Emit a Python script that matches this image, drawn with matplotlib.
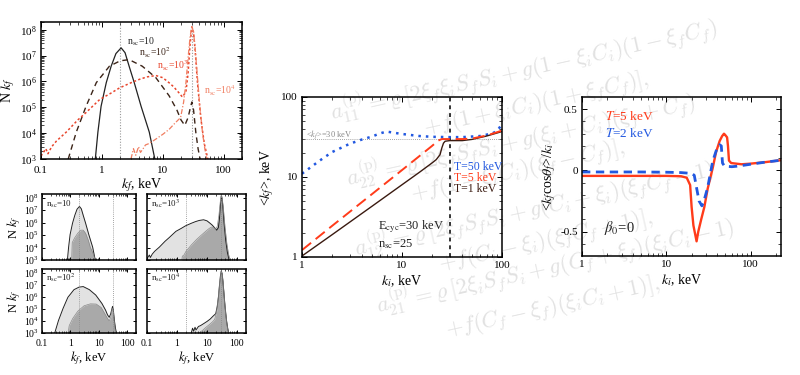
import numpy as np
import matplotlib
matplotlib.use('Agg')
import matplotlib.pyplot as plt

plt.rcParams['font.family'] = ['Liberation Serif', 'DejaVu Serif']
plt.rcParams['mathtext.fontset'] = 'stix'

# ---- spectra N k_f vs k_f (keV) for different n_sc ----
n10_x = [0.78, 0.86, 0.97, 1.18, 1.42, 1.7, 2.07, 2.4, 2.8, 3.4, 4.4, 6.0, 7.4]
n10_y = [1e3, 1.1e4, 1.1e5, 9e5, 3.9e6, 1.2e7, 2e7, 1.3e7, 3.9e6, 9e5, 1.1e5, 1.1e4, 1e3]

n100_x = [0.28, 0.38, 0.55, 0.81, 1.33, 2.0, 2.8, 4.6, 7.7, 12.7, 17, 20, 23, 26, 28.5, 30, 32, 35, 38, 41]
n100_y = [1e3, 1.1e4, 1.1e5, 9e5, 3.9e6, 6.3e6, 7e6, 3.9e6, 1.4e6, 2.8e5, 8e4, 3.2e4, 2e4, 4e4, 1e5, 1.6e5, 8e4, 1e4, 2.5e3, 1e3]

n1e3_x = [0.1, 0.12, 0.13, 0.15, 0.18, 0.26, 0.4, 0.55, 0.92, 1.4, 1.94, 3.0, 4.1, 5.5, 7.7, 10, 12.7, 15,
          18.5, 21, 24, 26, 28, 30, 32, 34, 37, 42, 48, 55]
n1e3_y = [1.3e3, 2.5e3, 1.6e3, 3e3, 5e3, 1.1e4, 3.2e4, 6.3e4, 2e5, 3.5e5, 5.6e5, 8.9e5, 1.2e6, 1.5e6, 1.7e6,
          1.4e6, 8.9e5, 6.3e5, 3.6e5, 2.5e5, 4e5, 2e6, 2.5e7, 1.3e8, 8e7, 1.6e7, 1e6, 4e4, 4e3, 1e3]

n1e4_x = [3.0, 3.3, 3.6, 4.0, 4.3, 4.7, 5.2, 6.0, 7.7, 10, 12.7, 16, 19.6, 22, 24, 26, 28, 30, 32, 34, 37, 40,
          45, 49, 53]
n1e4_y = [1e3, 2.5e3, 1.4e3, 3e3, 1.8e3, 2.4e3, 3.5e3, 4e3, 5.9e3, 9e3, 1.4e4, 2.5e4, 4e4, 1.6e5, 9e5, 8e6,
          5e7, 1.4e8, 8e7, 2e7, 1.6e6, 1.6e5, 1e4, 2.5e3, 1e3]

# darker (sub-)populations in the small panels
d10_x = [1.1, 1.15, 1.4, 1.8, 2.3, 2.8, 3.4, 4.2, 5.0, 5.6, 6.5, 7.4]
d10_y = [1e3, 2.5e4, 6e4, 1.4e5, 2.5e5, 2.5e5, 1.4e5, 4e4, 1e4, 6e3, 2.5e3, 1e3]
d100_x = [0.83, 0.9, 1.2, 1.8, 3.0, 5.0, 8.0, 12, 16, 20, 23, 26, 28.5, 30, 32, 35, 38]
d100_y = [1e3, 4e3, 1.6e4, 6.3e4, 1.8e5, 2.6e5, 2.5e5, 1.3e5, 4e4, 1.6e4, 1e4, 2e4, 8e4, 1.1e5, 5e4, 6.3e3, 1e3]
d1e3_x = [1.45, 1.5, 1.7, 2.0, 3.0, 4.5, 6.5, 9.0, 12, 14.5, 17, 19, 22, 25, 27.5, 30, 32, 35, 40, 46, 52, 58]
d1e3_y = [1e3, 2e3, 2.5e3, 5e3, 1.6e4, 4.5e4, 1e5, 2e5, 3.5e5, 4.5e5, 4e5, 2.8e5, 5e5, 4e6, 4e7, 2e8, 1e8,
          1.6e7, 4e5, 2e4, 3.2e3, 1e3]
d1e4_x = [5.6, 7, 9, 12, 15, 18, 21, 24, 27, 30, 32, 35, 38, 42, 47, 52]
d1e4_y = [1e3, 1.6e3, 2.8e3, 5e3, 8e3, 1.3e4, 6.3e4, 1e6, 2e7, 1.3e8, 8e7, 1e7, 6.3e5, 4e4, 4e3, 1e3]

# ---- <k_f> vs k_i ----
kf_blue_x = [1, 1.5, 2, 3, 4, 5, 6, 7, 8, 10, 15, 20, 30, 40, 60, 80, 90, 100]
kf_blue_y = [11, 16, 20.5, 26, 29.5, 32, 35, 37, 36, 34.5, 32.5, 31.8, 31.5, 31.5, 32.5, 35, 38, 46]
kf_red_x = [1, 2, 5, 10, 20, 23, 25, 30, 40, 50, 70, 100]
kf_red_y = [1.22, 2.45, 6.1, 12.2, 24.5, 28.5, 29.8, 29.8, 29.8, 30.2, 33, 38]
kf_blk_x = [1, 2, 5, 10, 15, 20, 22, 24, 25, 26, 27, 30, 40, 50, 70, 100]
kf_blk_y = [1.03, 1.9, 4.3, 8.0, 11.5, 15.0, 16.5, 19, 23, 26.5, 28, 28.5, 28.5, 29.5, 32.5, 37]

# ---- <k_f cos theta_f>/k_i vs k_i ----
cos_red_x = [1, 5, 10, 15, 17.5, 19.2, 20, 21, 22.9, 24, 26, 28.3, 31, 35.6, 39, 43, 46, 48.4, 50, 52.7, 54,
             55.5, 59, 78, 100, 148, 230]
cos_red_y = [-0.045, -0.045, -0.045, -0.048, -0.06, -0.12, -0.3, -0.45, -0.58, -0.5, -0.4, -0.3, -0.15, 0.02,
             0.15, 0.24, 0.28, 0.3, 0.29, 0.27, 0.2, 0.08, 0.06, 0.05, 0.055, 0.067, 0.083]
cos_blue_x = [1, 5, 10, 15, 20, 21.5, 23, 24.5, 26.5, 28, 31, 35.6, 40, 43, 45, 46.5, 49, 60, 71, 100, 148, 230]
cos_blue_y = [-0.013, -0.013, -0.015, -0.018, -0.025, -0.04, -0.15, -0.25, -0.29, -0.25, -0.14, 0.075, 0.18,
              0.21, 0.2, 0.06, 0.035, 0.03, 0.035, 0.05, 0.067, 0.083]

W, H = 800, 375
fig = plt.figure(figsize=(8, 3.75), dpi=100)


def px_axes(x0, y0, x1, y1):
    ax = fig.add_axes([x0 / W, 1 - y1 / H, (x1 - x0) / W, (y1 - y0) / H])
    ax.patch.set_alpha(0)
    ax.set_zorder(2)
    for s in ax.spines.values():
        s.set_linewidth(1.1)
    ax.tick_params(direction='in', which='both', top=True, right=True, labelsize=8, pad=3)
    ax.tick_params(which='major', length=3.5, width=0.7)
    ax.tick_params(which='minor', length=2, width=0.5)
    return ax


# background equations (faint)
eqs = [
    (332, 120, r'$a^{(\mathrm{p})}_{11} = \varrho\,[2\xi_f\xi_i S_f S_i + g(1-\xi_i C_i)(1-\xi_f C_f)$'),
    (425, 134, r'$+f(1+\xi_i C_i)(1+\xi_f C_f)],$'),
    (348, 186, r'$a^{(\mathrm{p})}_{22} = \varrho\,[2\xi_f S_f S_i + g(\xi_i + C_i)(\xi_f + C_f)$'),
    (412, 200, r'$+f(1-\xi_i C_i)(\xi_f - C_f)],$'),
    (356, 256, r'$a^{(\mathrm{p})}_{12} = \varrho\,[2\xi_f S_f S_i + g(C_i + \xi_i)(\xi_f C_f - 1)$'),
    (440, 270, r'$+f(C_i - \xi_i)(\xi_f C_f + 1)],$'),
    (378, 313, r'$a^{(\mathrm{p})}_{21} = \varrho\,[2\xi_i S_f S_i + g(C_f + \xi_f)(\xi_i C_i - 1)$'),
    (447, 336, r'$+f(C_f - \xi_f)(\xi_i C_i + 1)],$'),
]
for ex, ey, et in eqs:
    fig.text(ex / W, 1 - ey / H, et, color='#e1e1e1', fontsize=16, rotation=12.5,
             rotation_mode='anchor', ha='left', va='baseline', math_fontfamily='cm', zorder=0)

decade_labels = ['0.1', '1', '10', '100']
decade_ticks = [0.1, 1, 10, 100]

# ---- big spectrum panel ----
ax = px_axes(41, 22, 242, 159)
ax.set_xscale('log'); ax.set_yscale('log')
ax.axvline(2, color='#999999', ls=(0, (1, 1.5)), lw=0.8)
ax.axvline(30, color='#999999', ls=(0, (1, 1.5)), lw=0.8)
ax.plot(n10_x, n10_y, color='#222222', lw=0.9)
ax.plot(n100_x, n100_y, color='#3b2418', lw=1.0, ls=(0, (4, 3)))
ax.plot(n1e3_x, n1e3_y, color='#e8452c', lw=1.1, ls=(0, (1.5, 1.5)))
ax.plot(n1e4_x, n1e4_y, color='#f07d60', lw=0.9, ls=(0, (4, 1.5, 1, 1.5)))
ax.set_xlim(0.1, 200); ax.set_ylim(1e3, 2e8)
ax.set_xticks(decade_ticks); ax.set_xticklabels(decade_labels)
ax.set_yticks([1e3, 1e4, 1e5, 1e6, 1e7, 1e8])
ax.tick_params(axis='x', pad=5)
ax.set_xlabel(r'$k_f$, keV', fontsize=10, labelpad=1)
ax.set_ylabel(r'N $k_f$', fontsize=10, labelpad=2)
ax.text(2.6, 2.8e7, r'n$_{\rm sc}$=10', fontsize=7, color='#222222')
ax.text(4.1, 9e6, r'n$_{\rm sc}$=10$^2$', fontsize=7, color='#3b2418')
ax.text(8.0, 3e6, r'n$_{\rm sc}$=10$^3$', fontsize=7, color='#e8452c')
ax.text(48, 3.2e5, r'n$_{\rm sc}$=10$^4$', fontsize=7, color='#f07d60')

# ---- four small panels ----
small = [
    ((42, 194, 136, 260), n10_x, n10_y, d10_x, d10_y, r'n$_{\rm sc}$=10', True, False),
    ((147, 194, 246, 260), n1e3_x, n1e3_y, d1e3_x, d1e3_y, r'n$_{\rm sc}$=10$^3$', False, False),
    ((42, 269, 136, 333), n100_x, n100_y, d100_x, d100_y, r'n$_{\rm sc}$=10$^2$', True, True),
    ((147, 269, 246, 333), n1e4_x, n1e4_y, d1e4_x, d1e4_y, r'n$_{\rm sc}$=10$^4$', False, True),
]
for box, lx, ly, dx, dy, lab, left, bottom in small:
    a = px_axes(*box)
    a.set_xscale('log'); a.set_yscale('log')
    a.fill_between(lx, ly, 1e3, color='#e2e2e2', lw=0)
    a.plot(lx, ly, color='#222222', lw=0.7)
    a.fill_between(dx, dy, 1e3, color='#a9a9a9', lw=0)
    a.plot(dx, dy, color='#8a8a8a', lw=0.5)
    a.axvline(2, color='#888888', ls=(0, (1, 1.5)), lw=0.6)
    a.axvline(30, color='#888888', ls=(0, (1, 1.5)), lw=0.6)
    a.set_xlim(0.1, 200); a.set_ylim(1e3, 2e8)
    a.set_xticks(decade_ticks); a.set_xticklabels(decade_labels)
    a.set_yticks([1e3, 1e4, 1e5, 1e6, 1e7, 1e8])
    a.tick_params(labelsize=7, pad=2)
    a.tick_params(axis='x', pad=4)
    a.tick_params(which='major', length=2.5)
    a.tick_params(which='minor', length=1.5)
    if not left:
        a.set_yticklabels([])
    else:
        a.set_ylabel(r'N $k_f$', fontsize=9, labelpad=1)
    if not bottom:
        a.set_xticklabels([])
    else:
        a.set_xlabel(r'$k_f$, keV', fontsize=9, labelpad=1)
    a.text(0.14, 2e7, lab, fontsize=6.5, color='#222222')

# ---- <k_f> panel ----
ax = px_axes(302, 97, 502, 257)
ax.set_xscale('log'); ax.set_yscale('log')
ax.axhline(30, color='#888888', ls=(0, (1, 1.5)), lw=0.6)
ax.axvline(30, color='#333333', ls=(0, (2, 2)), lw=1.4)
ax.plot(kf_blue_x, kf_blue_y, color='#2258e0', lw=1.8, ls=(0, (1, 2)))
ax.plot(kf_blk_x, kf_blk_y, color='#3a1a10', lw=1.0)
ax.plot(kf_red_x, kf_red_y, color='#ff3b1a', lw=1.4, ls=(0, (6, 3)))
ax.set_xlim(1, 100); ax.set_ylim(1, 100)
ax.set_xticks([1, 10, 100]); ax.set_xticklabels(['1', '10', '100'])
ax.set_yticks([1, 10, 100]); ax.set_yticklabels(['1', '10', '100'])
ax.set_xlabel(r'$k_i$, keV', fontsize=10, labelpad=2)
ax.set_ylabel(r'<$k_f$>, keV', fontsize=10, labelpad=4)
ax.text(1.1, 32, r'<$k_f$>=30 keV', fontsize=6, color='#888888')
ax.text(33, 12.2, 'T=50 keV', fontsize=8.5, color='#2258e0')
ax.text(33, 8.9, 'T=5 keV', fontsize=8.5, color='#ff3b1a')
ax.text(33, 6.5, 'T=1 keV', fontsize=8.5, color='#3a1a10')
ax.text(5.7, 2.2, r'E$_{\rm cyc}$=30 keV', fontsize=9, color='#222222')
ax.text(5.7, 1.33, r'n$_{\rm sc}$=25', fontsize=9, color='#222222')

# ---- <k_f cos theta_f>/k_i panel ----
ax = px_axes(582, 97, 781, 256)
ax.set_xscale('log')
ax.plot(cos_red_x, cos_red_y, color='#ff3b1a', lw=1.7)
ax.plot(cos_blue_x, cos_blue_y, color='#2258e0', lw=2.0, ls=(0, (3, 2)))
ax.set_xlim(1, 230); ax.set_ylim(-0.7, 0.6)
ax.set_xticks([1, 10, 100]); ax.set_xticklabels(['1', '10', '100'])
ax.set_yticks([-0.5, 0, 0.5]); ax.set_yticklabels(['-0.5', '0', '0.5'])
ax.set_yticks([-0.6, -0.4, -0.3, -0.2, -0.1, 0.1, 0.2, 0.3, 0.4], minor=True)
ax.set_xlabel(r'$k_i$, keV', fontsize=10, labelpad=2)
ax.set_ylabel(r'<$k_f$cos$\theta_f$>/$k_i$', fontsize=10, labelpad=2)
ax.text(1.9, 0.41, r'$T$=5 keV', fontsize=9.5, color='#ff3b1a')
ax.text(1.9, 0.27, r'$T$=2 keV', fontsize=9.5, color='#2258e0')
ax.text(1.8, -0.5, r'$\beta_0$=0', fontsize=10.5, color='#222222')

fig.savefig('out.png', dpi=100)
